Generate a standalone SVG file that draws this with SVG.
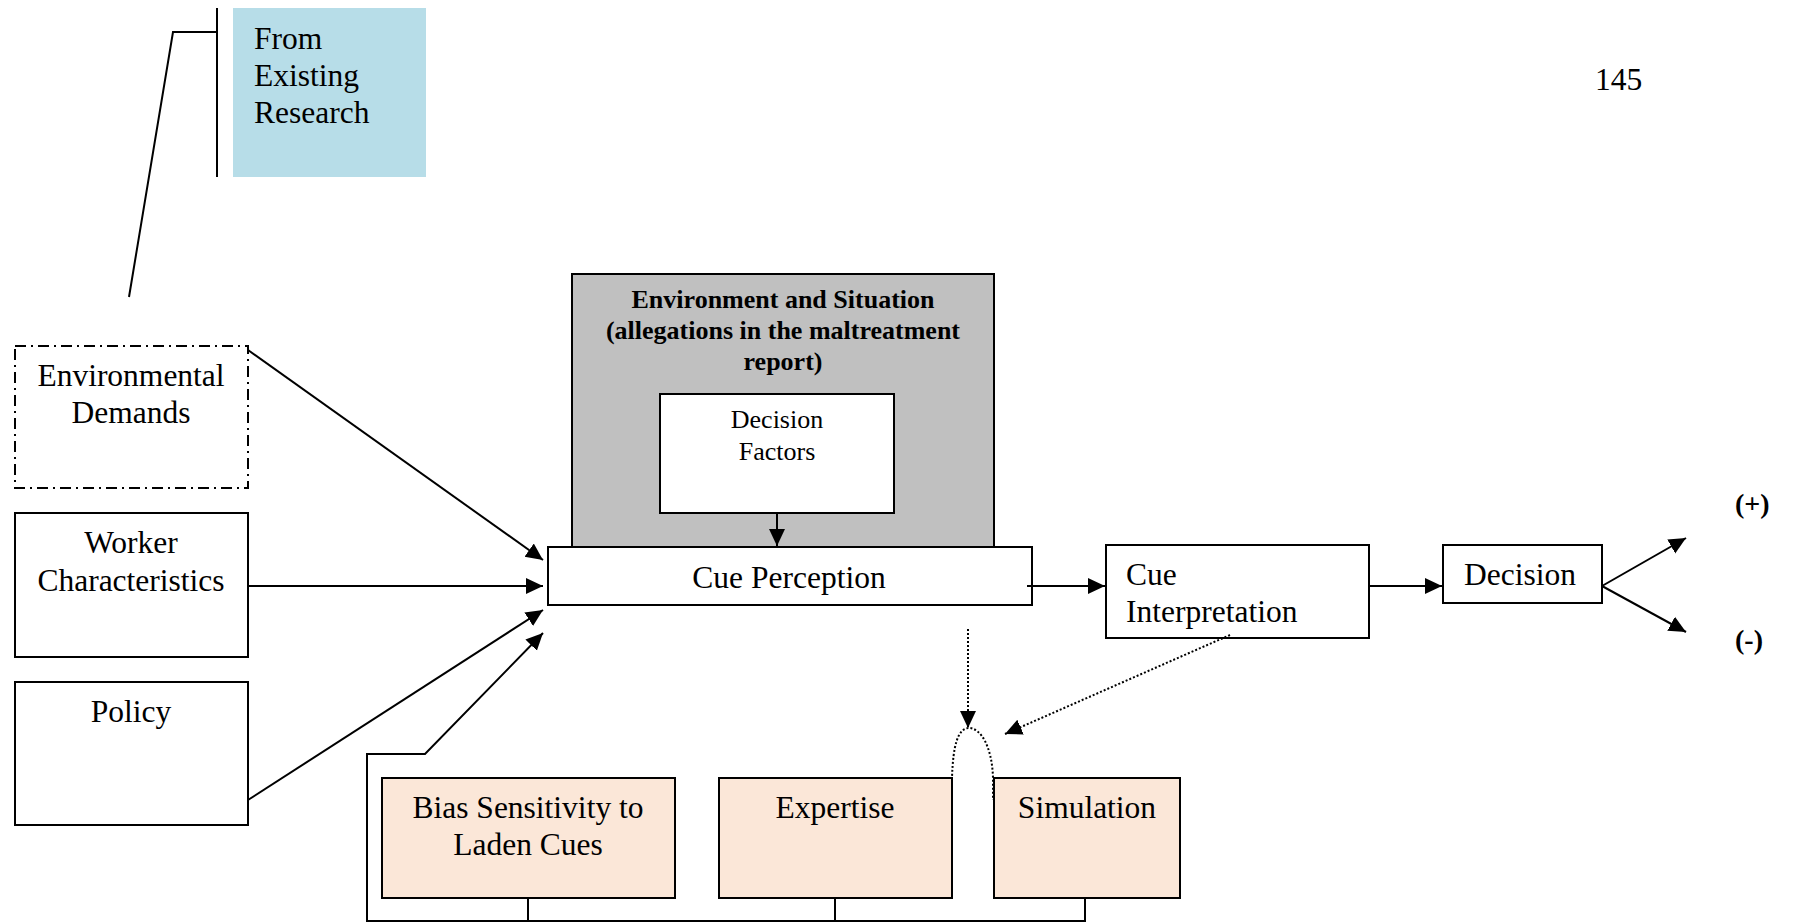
<svg xmlns="http://www.w3.org/2000/svg" width="1794" height="922" viewBox="0 0 1794 922">
<style>
text{font-family:"Liberation Serif","Times New Roman",serif;fill:#000}
.t{font-size:31.5px}
.s{font-size:26px}
.b{font-size:26px;font-weight:bold}
.c{text-anchor:middle}
.box{fill:#fff;stroke:#000;stroke-width:2}
.peach{fill:#FBE7D8;stroke:#000;stroke-width:2}
.ln{fill:none;stroke:#000;stroke-width:2}
.dot{fill:none;stroke:#000;stroke-width:2;stroke-dasharray:2 2}
</style>
<defs>
<marker id="ah" markerUnits="userSpaceOnUse" markerWidth="18" markerHeight="18" viewBox="0 0 18 18" refX="17" refY="9" orient="auto">
<path d="M0,1 L17,9 L0,17 Z" fill="#000"/>
</marker>
</defs>
<rect width="1794" height="922" fill="#fff"/>

<g id="from-existing-research">
<rect x="233" y="8" width="193" height="169" fill="#B7DDE8"/>
<text class="t" x="254" y="49">From</text>
<text class="t" x="254" y="86">Existing</text>
<text class="t" x="254" y="123">Research</text>
</g>

<g id="page-number"><text class="t" x="1595" y="90">145</text></g>

<g id="environmental-demands">
<rect x="15" y="346" width="233" height="142" fill="#fff" stroke="#000" stroke-width="2" stroke-dasharray="11 5 2 5"/>
<text class="t c" x="131" y="386">Environmental</text>
<text class="t c" x="131" y="423">Demands</text>
</g>

<g id="worker-characteristics">
<rect class="box" x="15" y="513" width="233" height="144"/>
<text class="t c" x="131" y="553">Worker</text>
<text class="t c" x="131" y="591">Characteristics</text>
</g>

<g id="policy">
<rect class="box" x="15" y="682" width="233" height="143"/>
<text class="t c" x="131" y="722">Policy</text>
</g>

<g id="environment-situation">
<rect x="572" y="274" width="422" height="274" fill="#C0C0C0" stroke="#000" stroke-width="2"/>
<text class="b c" x="783" y="308">Environment and Situation</text>
<text class="b c" x="783" y="339">(allegations in the maltreatment</text>
<text class="b c" x="783" y="370">report)</text>
</g>

<g id="decision-factors">
<rect class="box" x="660" y="394" width="234" height="119"/>
<text class="s c" x="777" y="428">Decision</text>
<text class="s c" x="777" y="460">Factors</text>
</g>

<g id="cue-perception">
<rect class="box" x="548" y="547" width="484" height="58"/>
<text class="t c" x="789" y="588">Cue Perception</text>
</g>

<g id="cue-interpretation">
<rect class="box" x="1106" y="545" width="263" height="93"/>
<text class="t" x="1126" y="585">Cue</text>
<text class="t" x="1126" y="622">Interpretation</text>
</g>

<g id="decision">
<rect class="box" x="1443" y="545" width="159" height="58"/>
<text class="t" x="1464" y="585">Decision</text>
</g>

<g id="outcome-positive"><text class="b" x="1735" y="513" style="font-size:28px">(+)</text></g>
<g id="outcome-negative"><text class="b" x="1735" y="649" style="font-size:28px">(-)</text></g>

<g id="bias-sensitivity">
<rect class="peach" x="382" y="778" width="293" height="120"/>
<text class="t c" x="528" y="818">Bias Sensitivity to</text>
<text class="t c" x="528" y="855">Laden Cues</text>
</g>

<g id="expertise">
<rect class="peach" x="719" y="778" width="233" height="120"/>
<text class="t c" x="835" y="818">Expertise</text>
</g>

<g id="simulation">
<rect class="peach" x="994" y="778" width="186" height="120"/>
<text class="t c" x="1087" y="818">Simulation</text>
</g>

<g id="connectors">
<polyline class="ln" points="217,8 217,177"/>
<polyline class="ln" points="217,32 173,32 129,297"/>
<line class="ln" x1="248" y1="350" x2="543" y2="560" marker-end="url(#ah)"/>
<line class="ln" x1="248" y1="586" x2="543" y2="586" marker-end="url(#ah)"/>
<line class="ln" x1="248" y1="800" x2="543" y2="610" marker-end="url(#ah)"/>
<polyline class="ln" points="528,898 528,921"/>
<polyline class="ln" points="835,898 835,921"/>
<polyline class="ln" points="1085,898 1085,921 367,921 367,754 425,754 543,633" marker-end="url(#ah)"/>
<line class="ln" x1="777" y1="513" x2="777" y2="546" marker-end="url(#ah)"/>
<line class="ln" x1="1027" y1="586" x2="1105" y2="586" marker-end="url(#ah)"/>
<line class="ln" x1="1369" y1="586" x2="1442" y2="586" marker-end="url(#ah)"/>
<line class="ln" x1="1602" y1="586" x2="1686" y2="538" marker-end="url(#ah)"/>
<line class="ln" x1="1602" y1="586" x2="1686" y2="632" marker-end="url(#ah)"/>
<line class="dot" x1="968" y1="629" x2="968" y2="728" marker-end="url(#ah)"/>
<line class="dot" x1="1230" y1="635" x2="1005" y2="734" marker-end="url(#ah)"/>
<path class="dot" d="M952,800 L952,778 C953,745 958,728 969,728 C980,728 992,745 993,778 L993,800"/>
</g>
</svg>
